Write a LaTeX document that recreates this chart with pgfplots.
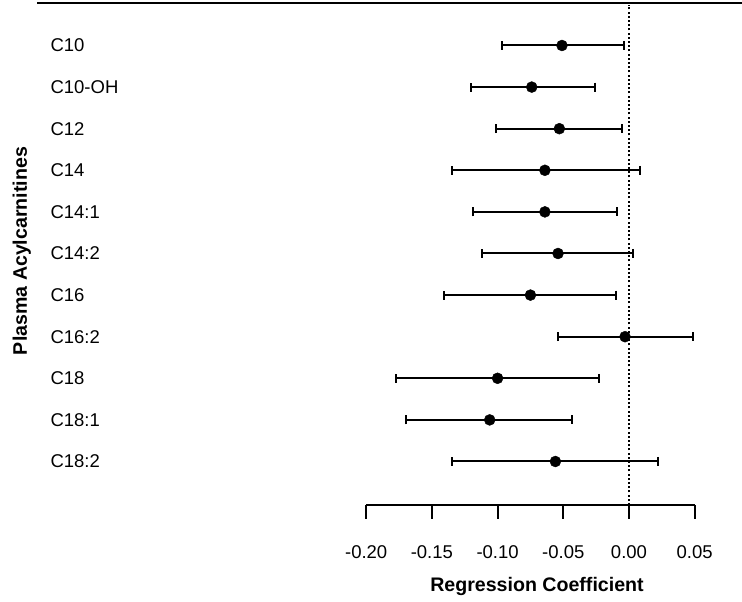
\documentclass[border=0pt]{standalone}
\usepackage{pgfplots}
\pgfplotsset{compat=1.18}
\usepackage{pgfplotstable}
\usepackage{fontspec}
\setmainfont{Liberation Sans}
\pgfplotstableread{
y      x       em     ep
459.5  -0.051  0.046  0.047
417.9  -0.074  0.046  0.048
376.3  -0.053  0.048  0.048
334.7  -0.064  0.071  0.072
293.1  -0.064  0.055  0.055
251.5  -0.054  0.058  0.057
209.9  -0.075  0.066  0.065
168.3  -0.003  0.051  0.052
126.7  -0.100  0.077  0.077
85.1   -0.106  0.064  0.063
43.5   -0.056  0.079  0.078
}\coef
\begin{document}
\begin{tikzpicture}[x=1pt,y=1pt]
\begin{axis}[
  at={(37pt,97pt)}, anchor=south west,
  scale only axis, width=705pt, height=502pt,
  xmin=-0.4505, xmax=0.0860, ymin=0, ymax=502,
  axis x line=bottom, axis y line=left,
  x axis line style={draw=none,-},
  y axis line style={draw=none,-},
  xtick={-0.2,-0.15,-0.1,-0.05,0,0.05},
  xticklabels={-0.20,-0.15,-0.10,-0.05,0.00,0.05},
  tick align=outside,
  xtick style={black, line width=2pt},
  x tick label style={font=\fontsize{18.5}{20}\selectfont, anchor=base, yshift=-40pt},
  major tick length=14pt,
  ytick={459.5,417.9,376.3,334.7,293.1,251.5,209.9,168.3,126.7,85.1,43.5},
  yticklabels={C10,C10-OH,C12,C14,C14:1,C14:2,C16,C16:2,C18,C18:1,C18:2},
  ytick style={draw=none},
  y tick label style={font=\fontsize{18.5}{20}\selectfont, anchor=west, xshift=24pt},
  xlabel={\bfseries Regression Coefficient},
  ylabel={\bfseries Plasma Acylcarnitines},
  xlabel style={font=\fontsize{19.6}{22}\selectfont, at={(rel axis cs:0.7092,-0.1733)}, anchor=base},
  ylabel style={font=\fontsize{19.6}{22}\selectfont, at={(rel axis cs:-0.0142,0.506)}, anchor=base},
  clip=false,
]
\draw[line width=2pt] (rel axis cs:0,1) -- (rel axis cs:1,1);
\draw[line width=2pt] (axis cs:-0.2,0) -- (axis cs:0.05,0);
\draw[line width=2pt, dash pattern=on 2pt off 2.2pt] (axis cs:0,0) -- (axis cs:0,500);
\addplot[only marks, mark=*, mark size=5.5pt, black,
  error bars/.cd, x dir=both, x explicit,
  error bar style={line width=2pt, black},
  error mark options={rotate=90, mark size=4.5pt, line width=2pt, black}]
  table[x=x, y=y, x error plus=ep, x error minus=em] {\coef};
\end{axis}
\pgfresetboundingbox
\path[use as bounding box] (0,0) rectangle (742pt,602pt);
\end{tikzpicture}
\end{document}
